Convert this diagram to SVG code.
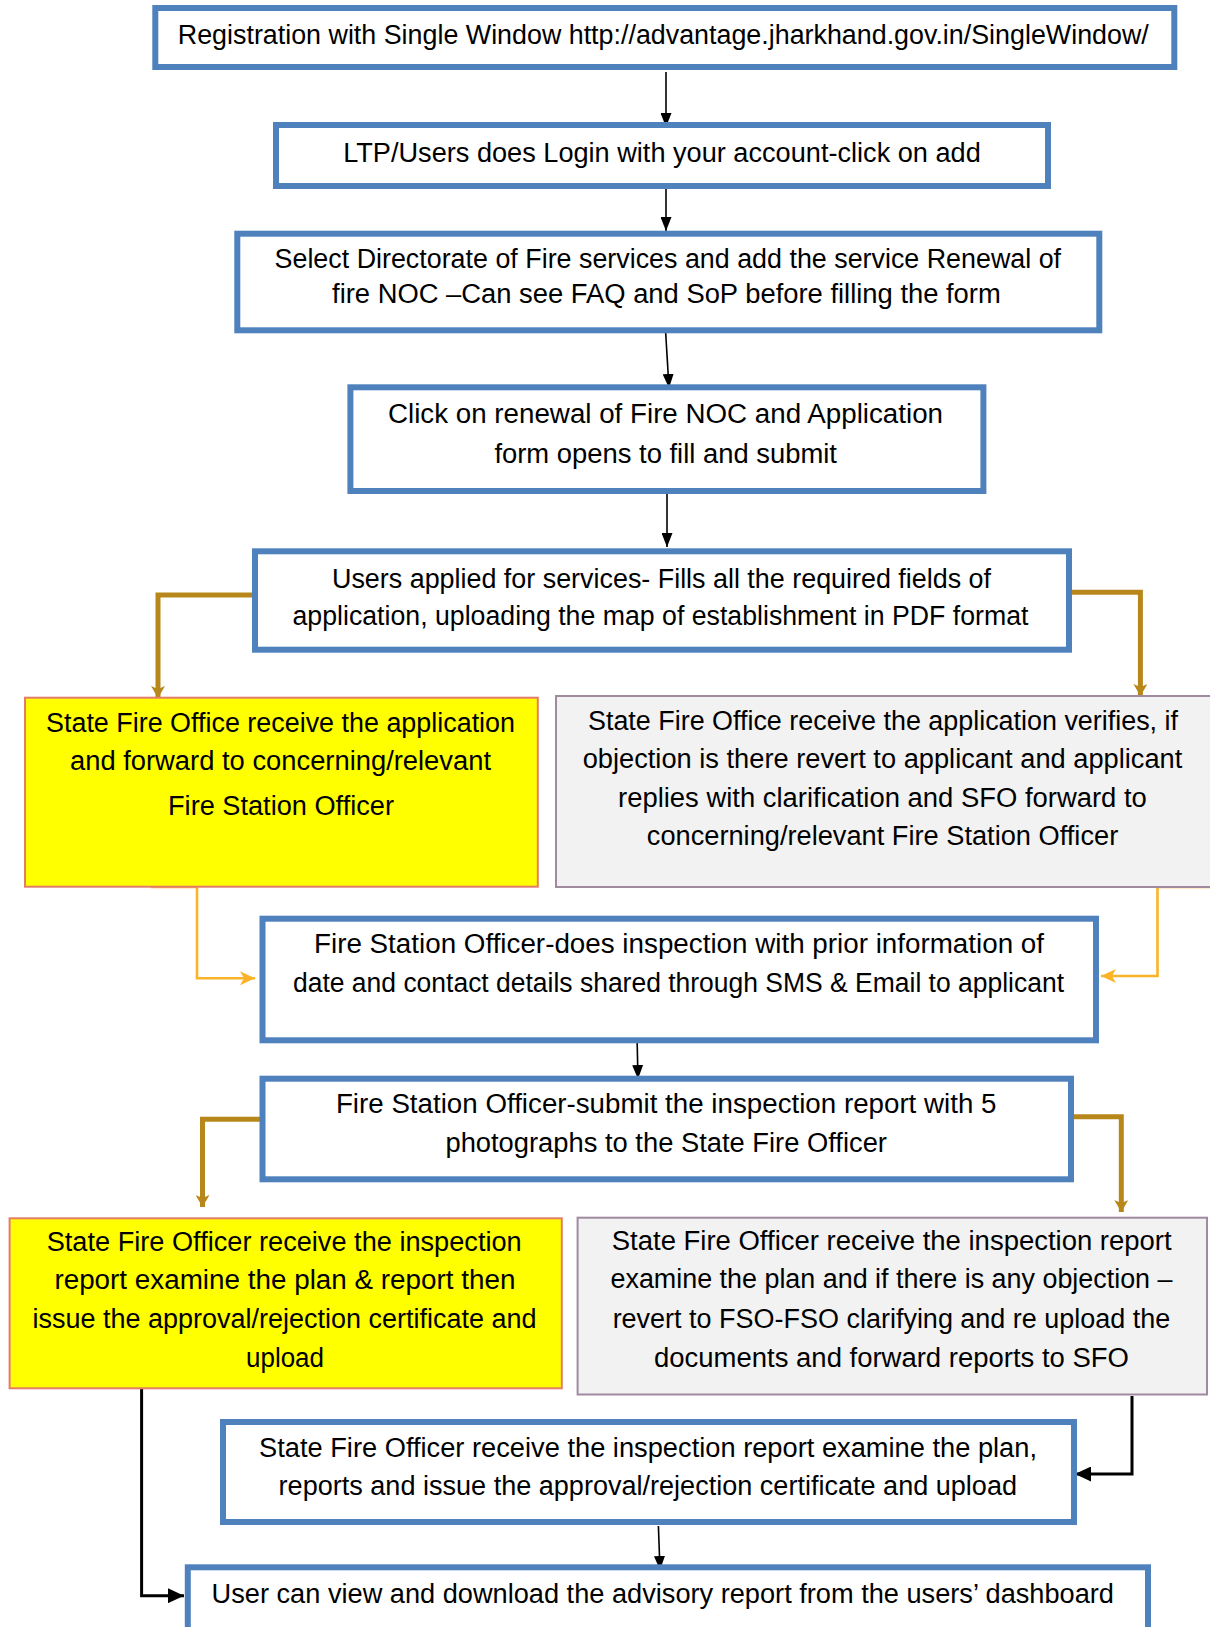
<svg xmlns="http://www.w3.org/2000/svg" width="1210" height="1627" viewBox="0 0 1210 1627">
<style>
.blue{fill:#ffffff;stroke:#4f81bd;stroke-width:6}
.yel{fill:#ffff00;stroke:#e47c6a;stroke-width:2}
.gry{fill:#f2f2f2;stroke:#a08aa0;stroke-width:2}
text{font-family:"Liberation Sans",Arial,sans-serif;font-size:27px;fill:#000;text-anchor:middle}
.thin{fill:none;stroke:#000;stroke-width:1.6}
.thick{fill:none;stroke:#000;stroke-width:3}
.brown{fill:none;stroke:#b8871b;stroke-width:5}
.orange{fill:none;stroke:#fbb428;stroke-width:2.6}
</style>
<defs>
<marker id="aBlack" viewBox="0 0 14 11" refX="14" refY="5.5" markerWidth="14" markerHeight="11" markerUnits="userSpaceOnUse" orient="auto"><path d="M0,0 L14,5.5 L0,11 z" fill="#000"/></marker>
<marker id="aBlackBig" viewBox="0 0 16 15" refX="16" refY="7.5" markerWidth="16" markerHeight="15" markerUnits="userSpaceOnUse" orient="auto"><path d="M0,0 L16,7.5 L0,15 z" fill="#000"/></marker>
<marker id="aBrown" viewBox="0 0 12 14" refX="12" refY="7" markerWidth="12" markerHeight="14" markerUnits="userSpaceOnUse" orient="auto"><path d="M0,0 L12,7 L0,14 L3,7 z" fill="#b8871b"/></marker>
<marker id="aOrange" viewBox="0 0 15 14" refX="15" refY="7" markerWidth="15" markerHeight="14" markerUnits="userSpaceOnUse" orient="auto"><path d="M0,0 L15,7 L0,14 L4,7 z" fill="#fbb428"/></marker>
</defs>

<g id="connectors">
<path class="thin" d="M666,72 L666,127" marker-end="url(#aBlack)"/>
<path class="thin" d="M666,186 L666,231" marker-end="url(#aBlack)"/>
<path class="thin" d="M665.5,330 L669,388" marker-end="url(#aBlack)"/>
<path class="thin" d="M667,493 L667,547" marker-end="url(#aBlack)"/>
<path class="thin" d="M637,1036 L638,1079" marker-end="url(#aBlack)"/>
<path class="thin" d="M658.4,1526 L660,1570" marker-end="url(#aBlack)"/>
<path class="brown" d="M257,595 H158 V698" marker-end="url(#aBrown)"/>
<path class="brown" d="M1069,592.3 H1140.4 V696" marker-end="url(#aBrown)"/>
<path class="brown" d="M261.5,1119.3 H202.5 V1207" marker-end="url(#aBrown)"/>
<path class="brown" d="M1074,1116.7 H1121.3 V1212" marker-end="url(#aBrown)"/>
<path class="orange" d="M151,887 H197 V978.3 H255" marker-end="url(#aOrange)"/>
<path class="orange" d="M1215,887 H1157.5 V976 H1101" marker-end="url(#aOrange)"/>
<path class="thick" d="M109,1387 H141.6 V1595.7 H184" marker-end="url(#aBlackBig)"/>
<path class="thick" d="M1132,1396 V1474 H1075" marker-end="url(#aBlackBig)"/>
</g>

<g id="n1"><rect class="blue" x="155.3" y="8" width="1019" height="59"/>
<text x="663.3" y="43.5" textLength="971" lengthAdjust="spacingAndGlyphs">Registration with Single Window http://advantage.jharkhand.gov.in/SingleWindow/</text></g>

<g id="n2"><rect class="blue" x="276" y="125" width="772" height="61"/>
<text x="662" y="161.7" textLength="637.6" lengthAdjust="spacingAndGlyphs">LTP/Users does Login with your account-click on add</text></g>

<g id="n3"><rect class="blue" x="237.3" y="233.7" width="862" height="96.6"/>
<text x="667.8" y="268.3" textLength="786.5" lengthAdjust="spacingAndGlyphs">Select Directorate of Fire services and add the service Renewal of</text>
<text x="666.4" y="302.7" textLength="668.7" lengthAdjust="spacingAndGlyphs">fire NOC –Can see FAQ and SoP before filling the form</text></g>

<g id="n4"><rect class="blue" x="350.4" y="387.3" width="633" height="103.7"/>
<text x="665.5" y="422.7" textLength="555" lengthAdjust="spacingAndGlyphs">Click on renewal of Fire NOC and Application</text>
<text x="665.7" y="463.3" textLength="342.6" lengthAdjust="spacingAndGlyphs">form opens to fill and submit</text></g>

<g id="n5"><rect class="blue" x="255" y="551.3" width="814" height="98.4"/>
<text x="661.5" y="588.3" textLength="659" lengthAdjust="spacingAndGlyphs">Users applied for services- Fills all the required fields of</text>
<text x="660.5" y="625" textLength="736" lengthAdjust="spacingAndGlyphs">application, uploading the map of establishment in PDF format</text></g>

<g id="n6"><rect class="yel" x="25" y="697.7" width="512.8" height="189"/>
<text x="280.5" y="731.7" textLength="469" lengthAdjust="spacingAndGlyphs">State Fire Office receive the application</text>
<text x="280.5" y="770" textLength="421" lengthAdjust="spacingAndGlyphs">and forward to concerning/relevant</text>
<text x="281" y="815" textLength="226" lengthAdjust="spacingAndGlyphs">Fire Station Officer</text></g>

<g id="n7"><rect class="gry" x="556" y="696" width="665" height="191"/>
<text x="883" y="730" textLength="590" lengthAdjust="spacingAndGlyphs">State Fire Office receive the application verifies, if</text>
<text x="882.5" y="768.3" textLength="599.6" lengthAdjust="spacingAndGlyphs">objection is there revert to applicant and applicant</text>
<text x="882.4" y="806.7" textLength="528.8" lengthAdjust="spacingAndGlyphs">replies with clarification and SFO forward to</text>
<text x="882.5" y="845" textLength="471.4" lengthAdjust="spacingAndGlyphs">concerning/relevant Fire Station Officer</text></g>

<g id="n8"><rect class="blue" x="262.5" y="918.7" width="833.5" height="121.6"/>
<text x="679" y="953.3" textLength="730" lengthAdjust="spacingAndGlyphs">Fire Station Officer-does inspection with prior information of</text>
<text x="678.5" y="991.7" textLength="771" lengthAdjust="spacingAndGlyphs">date and contact details shared through SMS &amp; Email to applicant</text></g>

<g id="n9"><rect class="blue" x="262.5" y="1078.7" width="808.5" height="100.6"/>
<text x="666.2" y="1113.3" textLength="660.5" lengthAdjust="spacingAndGlyphs">Fire Station Officer-submit the inspection report with 5</text>
<text x="666.2" y="1151.7" textLength="441.5" lengthAdjust="spacingAndGlyphs">photographs to the State Fire Officer</text></g>

<g id="n10"><rect class="yel" x="9.6" y="1218.3" width="552.2" height="170"/>
<text x="284.2" y="1250.7" textLength="475" lengthAdjust="spacingAndGlyphs">State Fire Officer receive the inspection</text>
<text x="284.9" y="1289.3" textLength="461" lengthAdjust="spacingAndGlyphs">report examine the plan &amp; report then</text>
<text x="284.5" y="1328.3" textLength="504" lengthAdjust="spacingAndGlyphs">issue the approval/rejection certificate and</text>
<text x="285" y="1366.7" textLength="78" lengthAdjust="spacingAndGlyphs">upload</text></g>

<g id="n11"><rect class="gry" x="577.6" y="1217.7" width="629.4" height="176.8"/>
<text x="891.7" y="1250" textLength="559.8" lengthAdjust="spacingAndGlyphs">State Fire Officer receive the inspection report</text>
<text x="891.5" y="1288.3" textLength="562" lengthAdjust="spacingAndGlyphs">examine the plan and if there is any objection –</text>
<text x="891.5" y="1328.3" textLength="557.7" lengthAdjust="spacingAndGlyphs">revert to FSO-FSO clarifying and re upload the</text>
<text x="891.5" y="1366.7" textLength="474.9" lengthAdjust="spacingAndGlyphs">documents and forward reports to SFO</text></g>

<g id="n12"><rect class="blue" x="223" y="1422" width="851" height="100"/>
<text x="648" y="1456.7" textLength="778" lengthAdjust="spacingAndGlyphs">State Fire Officer receive the inspection report examine the plan,</text>
<text x="647.8" y="1495" textLength="738.4" lengthAdjust="spacingAndGlyphs">reports and issue the approval/rejection certificate and upload</text></g>

<g id="n13"><rect class="blue" x="187.8" y="1567.3" width="960.2" height="100"/>
<text x="662.8" y="1602.7" textLength="902.4" lengthAdjust="spacingAndGlyphs">User can view and download the advisory report from the users’ dashboard</text></g>
</svg>
